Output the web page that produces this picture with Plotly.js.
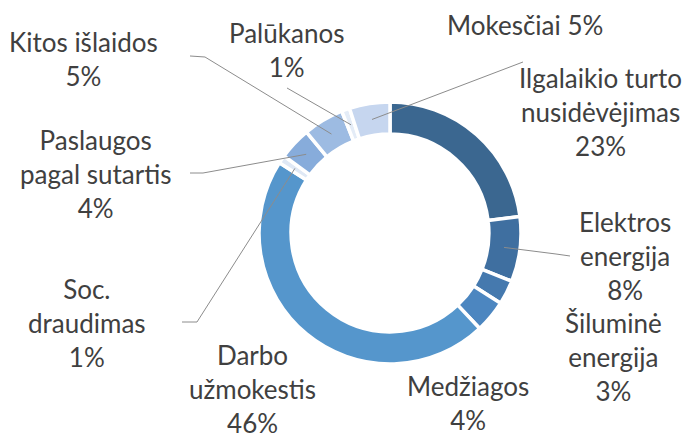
<!DOCTYPE html>
<html>
<head>
<meta charset="utf-8">
<script src="https://cdn.plot.ly/plotly-3.0.1.min.js"></script>
<style>html,body{margin:0;padding:0;background:#fff;}#chart{width:686px;height:438px;}</style>
</head>
<body>
<div id="chart"></div>
<script>
// ---- data ----
const categories = ['Ilgalaikio turto nusidėvėjimas', 'Elektros energija', 'Šiluminė energija', 'Medžiagos', 'Darbo užmokestis', 'Soc. draudimas', 'Paslaugos pagal sutartis', 'Kitos išlaidos', 'Palūkanos', 'Mokesčiai'];
const values = [23, 8, 3, 4, 46, 1, 4, 5, 1, 5];
const labelText = ['Ilgalaikio turto<br>nusidėvėjimas', 'Elektros<br>energija', 'Šiluminė<br>energija', 'Medžiagos', 'Darbo<br>užmokestis', 'Soc.<br>draudimas', 'Paslaugos<br>pagal sutartis', 'Kitos išlaidos', 'Palūkanos', 'Mokesčiai'];
const labelSep = ['<br>', '<br>', '<br>', '<br>', '<br>', '<br>', '<br>', '<br>', '<br>', ' '];
const colors = ['#3b6790', '#3f6fa0', '#4579ae', '#4c86c0', '#5596cc', '#dfe8f5', '#87acdb', '#9dbbe2', '#e4ecf7', '#c6d6ef'];

// ---- layout helpers (pixels) ----
const W = 686, H = 438;
const cx = 390, cy = 233, R = 131, hole = 0.755;
const px = x => x / W;
const py = y => 1 - y / H;

// label block centres (px)
const labelPos = [[600, 112], [625, 256], [613, 357], [468, 403], [252, 389], [87, 323], [95, 174], [83, 59], [286, 50], [525, 25]];
// leader line label-side points (px); null = no leader line
const leaderStart = [null, [[570, 256], [556, 254]], null, null, null, [[182, 322], [197, 322]], [[190, 173], [203, 173]], [[190, 56], [205, 57]], [[287, 88]], [[523, 62]]];

const total = values.reduce((a, b) => a + b, 0);
let cum = 0;
const shapes = [];
const annotations = [];
values.forEach((v, i) => {
  const mid = (cum + v / 2) / total * 2 * Math.PI;
  cum += v;
  const rMid = R * (1 + hole) / 2;
  const ax = cx + rMid * Math.sin(mid);
  const ay = cy - rMid * Math.cos(mid);
  if (leaderStart[i]) {
    const pts = leaderStart[i].concat([[ax, ay]]);
    const d = pts.map((p, k) => (k ? 'L' : 'M') + px(p[0]).toFixed(5) + ',' + py(p[1]).toFixed(5)).join(' ');
    shapes.push({type: 'path', xref: 'paper', yref: 'paper', path: d, line: {color: '#8c8c8c', width: 1}});
  }
  annotations.push({
    xref: 'paper', yref: 'paper', x: px(labelPos[i][0]), y: py(labelPos[i][1]),
    xanchor: 'center', yanchor: 'middle', showarrow: false, align: 'center',
    text: labelText[i] + labelSep[i] + v + '%',
    font: {family: 'Lato, "Open Sans", sans-serif', size: 26, color: '#404040'}
  });
});

const trace = {
  type: 'pie',
  labels: categories,
  values: values,
  sort: false,
  direction: 'clockwise',
  rotation: 0,
  hole: hole,
  textinfo: 'none',
  hoverinfo: 'skip',
  marker: {colors: colors, line: {color: '#ffffff', width: 3.5}},
  domain: {x: [px(cx - R), px(cx + R)], y: [py(cy + R), py(cy - R)]}
};

Plotly.newPlot('chart', [trace], {
  width: W, height: H,
  margin: {l: 0, r: 0, t: 0, b: 0},
  paper_bgcolor: '#ffffff',
  showlegend: false,
  shapes: shapes,
  annotations: annotations
}, {staticPlot: true});
</script>
</body>
</html>
